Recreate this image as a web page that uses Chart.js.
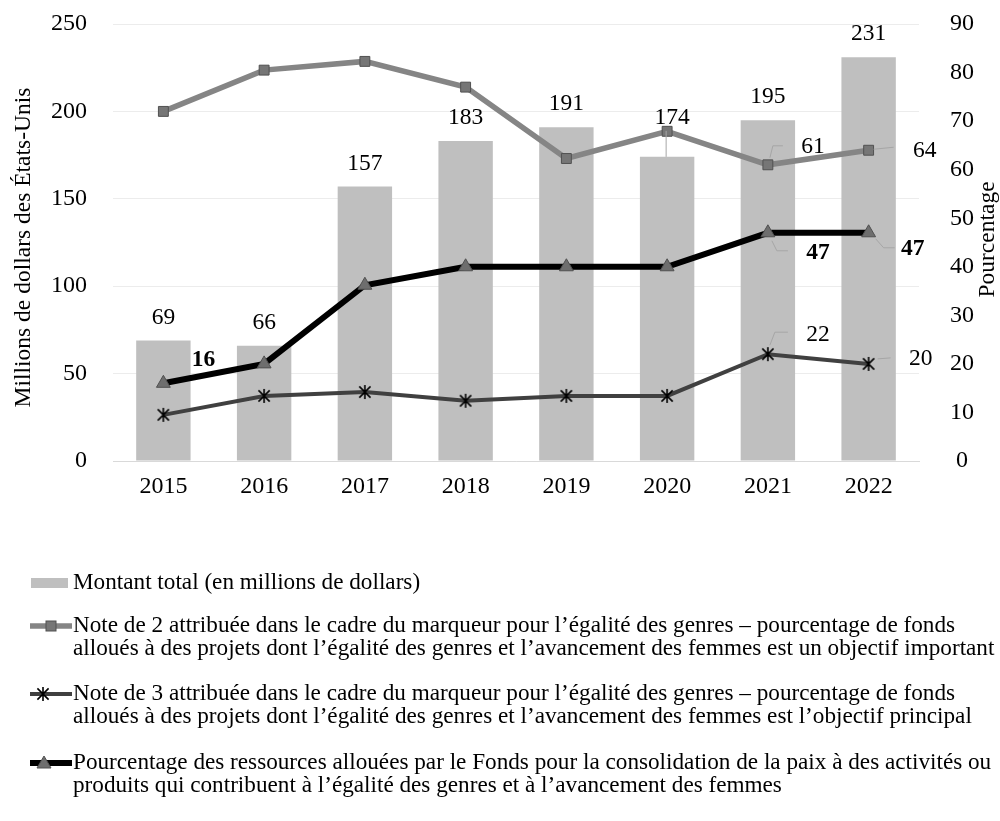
<!DOCTYPE html>
<html>
<head>
<meta charset="utf-8">
<script src="https://cdn.jsdelivr.net/npm/chart.js@4.4.1/dist/chart.umd.min.js"></script>
<style>
  html, body { margin: 0; padding: 0; background: #fff; }
  #wrap { position: relative; width: 1000px; height: 821px; }
</style>
</head>
<body>
<div id="wrap"><canvas id="c" width="1000" height="821"></canvas></div>
<script>
// Years on the category axis
const years = ['2015', '2016', '2017', '2018', '2019', '2020', '2021', '2022'];
// Total amount, millions of US dollars (left axis)
const totalMillions = [69, 66, 157, 183, 191, 174, 195, 231];
// Gender marker 2 – share of funds (%)
const note2Pct = [72, 80.5, 82.3, 77, 62.3, 67.9, 61, 64];
// Gender marker 3 – share of funds (%)
const note3Pct = [9.5, 13.4, 14.2, 12.4, 13.4, 13.4, 22, 20];
// Share of PBF resources for gender equality (%)
const fundPct = [16, 20, 36.2, 40, 40, 40, 47, 47];
// Axis tick values
const leftTicks = [0, 50, 100, 150, 200, 250];
const rightTicks = [0, 10, 20, 30, 40, 50, 60, 70, 80, 90];

const legendTexts = [
  ['Montant total (en millions de dollars)'],
  ['Note de 2 attribuée dans le cadre du marqueur pour l’égalité des genres – pourcentage de fonds',
   'alloués à des projets dont l’égalité des genres et l’avancement des femmes est un objectif important'],
  ['Note de 3 attribuée dans le cadre du marqueur pour l’égalité des genres – pourcentage de fonds',
   'alloués à des projets dont l’égalité des genres et l’avancement des femmes est l’objectif principal'],
  ['Pourcentage des ressources allouées par le Fonds pour la consolidation de la paix à des activités ou',
   'produits qui contribuent à l’égalité des genres et à l’avancement des femmes']
];

const FONT = '"Liberation Serif", "Times New Roman", serif';
const FS = 23.5;

// Six-armed asterisk marker
function makeStar(size) {
  const cv = document.createElement('canvas');
  cv.width = size; cv.height = size;
  const g = cv.getContext('2d');
  const c = size / 2, r = size / 2 - 1;
  g.strokeStyle = '#000';
  g.lineWidth = 1.6;
  g.beginPath();
  g.moveTo(c, c - r); g.lineTo(c, c + r);
  const d = r * 0.8;
  g.moveTo(c - d, c - d); g.lineTo(c + d, c + d);
  g.moveTo(c + d, c - d); g.lineTo(c - d, c + d);
  g.stroke();
  return cv;
}
const starImg = makeStar(16);

// Label placement per dataset/index: dx, dy offset of text centre from the point,
// optional leader polyline (relative to the point), bold flag
const lineLabels = {
  1: { 6: { dx: 45, dy: -18, leader: [[2, -7], [5, -19], [15, -19]] },
       7: { dx: 56, dy: 1, leader: [[5, -1], [25, -3]] } },
  2: { 6: { dx: 50, dy: -19, leader: [[2, -9], [7, -22], [20, -22]] },
       7: { dx: 52, dy: -5, leader: [[9, -5], [22, -6]] } },
  3: { 0: { dx: 40, dy: -23, bold: true },
       6: { dx: 50, dy: 20, bold: true, leader: [[4, 8], [9, 18], [20, 18]] },
       7: { dx: 44, dy: 16, bold: true, leader: [[7, 6], [15, 15], [26, 15]] } }
};

const labelPlugin = {
  id: 'valueLabels',
  afterDatasetsDraw(chart) {
    const ctx = chart.ctx;
    ctx.save();
    ctx.textAlign = 'center';
    ctx.textBaseline = 'middle';
    ctx.fillStyle = '#000';
    ctx.strokeStyle = '#a6a6a6';
    ctx.lineWidth = 1;
    // bar labels
    const barMeta = chart.getDatasetMeta(0);
    barMeta.data.forEach((bar, i) => {
      const v = chart.data.datasets[0].data[i];
      ctx.font = FS + 'px ' + FONT;
      if (years[i] === '2020') {
        ctx.beginPath();
        ctx.moveTo(bar.x - 1, bar.y);
        ctx.lineTo(bar.x - 1, bar.y - 26);
        ctx.stroke();
        ctx.fillText(String(v), bar.x + 5, bar.y - 39);
      } else {
        ctx.fillText(String(v), bar.x, bar.y - 23);
      }
    });
    // line labels
    Object.keys(lineLabels).forEach(dsIdx => {
      const meta = chart.getDatasetMeta(+dsIdx);
      const cfg = lineLabels[dsIdx];
      Object.keys(cfg).forEach(k => {
        const p = meta.data[+k];
        const c = cfg[k];
        const v = chart.data.datasets[+dsIdx].data[+k];
        if (c.leader) {
          ctx.beginPath();
          c.leader.forEach((pt, j) => {
            if (j === 0) ctx.moveTo(p.x + pt[0], p.y + pt[1]);
            else ctx.lineTo(p.x + pt[0], p.y + pt[1]);
          });
          ctx.stroke();
        }
        ctx.font = (c.bold ? 'bold ' : '') + FS + 'px ' + FONT;
        ctx.fillText(Math.round(v).toString(), p.x + c.dx, p.y + c.dy);
      });
    });
    ctx.restore();
  },
  afterDraw(chart) {
    const ctx = chart.ctx;
    const area = chart.chartArea;
    ctx.save();
    ctx.fillStyle = '#000';
    ctx.font = FS + 'px ' + FONT;
    ctx.textAlign = 'center';
    ctx.textBaseline = 'middle';
    // axis titles, both reading bottom-to-top
    ctx.save();
    ctx.translate(24, (area.top + area.bottom) / 2 + 5);
    ctx.rotate(-Math.PI / 2);
    ctx.fillText('Millions de dollars des États-Unis', 0, 0);
    ctx.restore();
    ctx.save();
    ctx.translate(988, (area.top + area.bottom) / 2 - 3);
    ctx.rotate(-Math.PI / 2);
    ctx.fillText('Pourcentage', 0, 0);
    ctx.restore();

    // legend
    const ds = chart.data.datasets;
    const rows = [583, 626, 694, 763];
    ctx.textAlign = 'left';
    ctx.font = '23.2px ' + FONT;
    rows.forEach((y, i) => {
      const d = ds[i];
      if (i === 0) {
        ctx.fillStyle = d.backgroundColor;
        ctx.fillRect(31, y - 5, 37, 10);
      } else {
        ctx.strokeStyle = d.borderColor;
        ctx.lineWidth = d.borderWidth;
        ctx.beginPath();
        ctx.moveTo(30, y); ctx.lineTo(72, y);
        ctx.stroke();
        if (d.pointStyle === 'rect') {
          ctx.fillStyle = d.pointBackgroundColor;
          ctx.strokeStyle = d.pointBorderColor;
          ctx.lineWidth = 1;
          ctx.fillRect(46, y - 5, 10, 10);
          ctx.strokeRect(46, y - 5, 10, 10);
        } else if (d.pointStyle === 'triangle') {
          ctx.fillStyle = d.pointBackgroundColor;
          ctx.strokeStyle = d.pointBorderColor;
          ctx.lineWidth = 1;
          ctx.beginPath();
          ctx.moveTo(44, y - 7); ctx.lineTo(51, y + 5); ctx.lineTo(37, y + 5); ctx.closePath();
          ctx.fill(); ctx.stroke();
        } else {
          ctx.drawImage(starImg, 43 - 8, y - 8);
        }
      }
      ctx.fillStyle = '#000';
      legendTexts[i].forEach((t, j) => ctx.fillText(t, 73, y + j * 23));
    });
    ctx.restore();
  }
};

// keep the vertical scales from reserving extra room above the plot
function fixVertical(width) {
  return function (s) {
    s.width = width;
    s.paddingTop = 0;
    s.paddingBottom = 0;
  };
}

new Chart(document.getElementById('c'), {
  data: {
    labels: years,
    datasets: [
      {
        type: 'bar', label: 'Montant total (en millions de dollars)',
        data: totalMillions, yAxisID: 'yL', order: 4,
        backgroundColor: '#bfbfbf', barPercentage: 0.54, categoryPercentage: 1
      },
      {
        type: 'line', label: 'Note de 2', data: note2Pct, yAxisID: 'yR', order: 3,
        borderColor: '#858585', borderWidth: 5.5, pointStyle: 'rect', pointRadius: 7,
        pointBackgroundColor: '#767676', pointBorderColor: '#505050', pointBorderWidth: 1,
        tension: 0
      },
      {
        type: 'line', label: 'Note de 3', data: note3Pct, yAxisID: 'yR', order: 2,
        borderColor: '#404040', borderWidth: 4, pointStyle: starImg, pointRadius: 8,
        tension: 0
      },
      {
        type: 'line', label: 'Pourcentage', data: fundPct, yAxisID: 'yR', order: 1,
        borderColor: '#000000', borderWidth: 6, pointStyle: 'triangle', pointRadius: 8,
        pointBackgroundColor: '#6e6e6e', pointBorderColor: '#505050', pointBorderWidth: 1,
        tension: 0
      }
    ]
  },
  options: {
    responsive: false,
    animation: false,
    devicePixelRatio: 1,
    layout: { padding: { top: 24, bottom: 291, left: 0, right: 0 } },
    plugins: { legend: { display: false }, tooltip: { enabled: false } },
    scales: {
      x: {
        grid: { display: false, drawTicks: false },
        border: { display: true, color: '#d9d9d9', width: 1 },
        ticks: { color: '#000', font: { family: FONT, size: 24 }, padding: 11 },
        afterFit(s) { s.height = 69; }
      },
      yL: {
        position: 'left',
        min: leftTicks[0], max: leftTicks[leftTicks.length - 1],
        ticks: { stepSize: leftTicks[1] - leftTicks[0], color: '#000',
                 font: { family: FONT, size: 24 }, padding: 26 },
        grid: { color: '#ececec', drawTicks: false },
        border: { display: false },
        afterFit: fixVertical(113)
      },
      yR: {
        position: 'right',
        min: rightTicks[0], max: rightTicks[rightTicks.length - 1],
        ticks: { stepSize: rightTicks[1] - rightTicks[0], color: '#000',
                 font: { family: FONT, size: 24 }, padding: 31, crossAlign: 'center' },
        grid: { display: false, drawTicks: false },
        border: { display: false },
        afterFit: fixVertical(81)
      }
    }
  },
  plugins: [labelPlugin]
});
</script>
</body>
</html>
